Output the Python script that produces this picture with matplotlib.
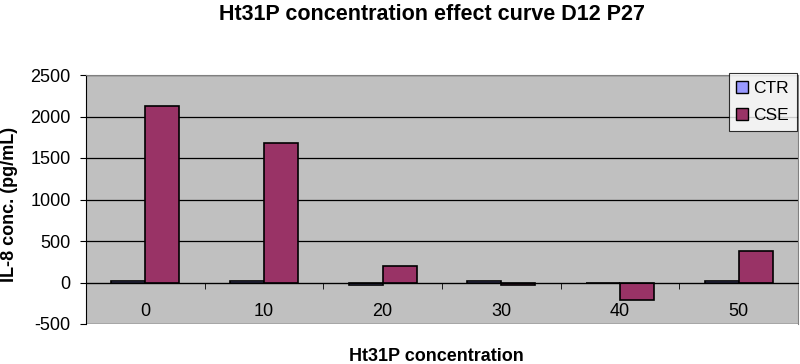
import numpy as np
import matplotlib
matplotlib.use("Agg")
import matplotlib.pyplot as plt
from matplotlib.patches import Patch

plt.rcParams["font.family"] = ["Liberation Sans", "DejaVu Sans"]
plt.rcParams["axes.unicode_minus"] = False

# values
categories = ["0", "10", "20", "30", "40", "50"]
ctr_values = [15, 15, -25, 15, 0, 15]
cse_values = [2130, 1680, 200, -25, -205, 375]
y_ticks = [-500, 0, 500, 1000, 1500, 2000, 2500]

CTR_COLOR = "#9999FF"
CSE_COLOR = "#993366"
PLOT_BG = "#C0C0C0"

fig = plt.figure(figsize=(8, 3.64), dpi=100)
ax = fig.add_axes([86 / 800, 40 / 364, 712 / 800, 249 / 364])
ax.set_facecolor(PLOT_BG)

x = np.arange(len(categories))
w = 0.2857
ax.bar(x - w / 2, ctr_values, w, color=CTR_COLOR, edgecolor="black", linewidth=1.2, zorder=3)
ax.bar(x + w / 2, cse_values, w, color=CSE_COLOR, edgecolor="black", linewidth=1.2, zorder=3)

ax.set_xlim(-0.5, len(categories) - 0.5)
ax.set_ylim(y_ticks[0], y_ticks[-1])
ax.set_yticks(y_ticks)
ax.tick_params(axis="y", labelsize=13, length=4, direction="out", pad=7)
ax.yaxis.grid(True, color="black", linewidth=0.9)
ax.set_axisbelow(True)

# category axis sits on the zero line, Excel style
ax.spines["bottom"].set_position(("data", 0))
ax.spines["bottom"].set_color("black")
ax.spines["bottom"].set_zorder(4)
ax.set_xticks(x)
ax.set_xticklabels(categories)
ax.set_xticks(np.arange(len(categories) + 1) - 0.5, minor=True)
ax.tick_params(axis="x", which="major", length=0, pad=15, labelsize=13)
ax.tick_params(axis="x", which="minor", length=4, direction="out", color="black")

ax.spines["left"].set_color("black")
for side in ["top", "right"]:
    ax.spines[side].set_color("#808080")

ax.set_ylabel("IL-8 conc. (pg/mL)", fontsize=13, fontweight="bold")
ax.yaxis.set_label_coords(-0.108, 0.482)
ax.yaxis.label.set_va("center")
ax.set_xlabel("Ht31P concentration", fontsize=13, fontweight="bold")
ax.xaxis.set_label_coords(0.4916, -0.148)
ax.xaxis.label.set_va("baseline")

fig.text(432 / 800, 1 - 20 / 364, "Ht31P concentration effect curve D12 P27",
         ha="center", va="baseline", fontsize=15.5, fontweight="bold")

handles = [Patch(facecolor=CTR_COLOR, edgecolor="black", label="CTR"),
           Patch(facecolor=CSE_COLOR, edgecolor="black", label="CSE")]
leg = fig.legend(handles=handles, loc="upper right",
                 bbox_to_anchor=(797 / 800, 1 - 73 / 364), fontsize=12.5,
                 frameon=True, fancybox=False, edgecolor="black",
                 handlelength=0.69, handleheight=0.69, handletextpad=0.3,
                 labelspacing=0.7, borderpad=0.45, borderaxespad=0)
leg.get_frame().set_linewidth(0.8)

fig.savefig("out.png", dpi=100, facecolor="white")
